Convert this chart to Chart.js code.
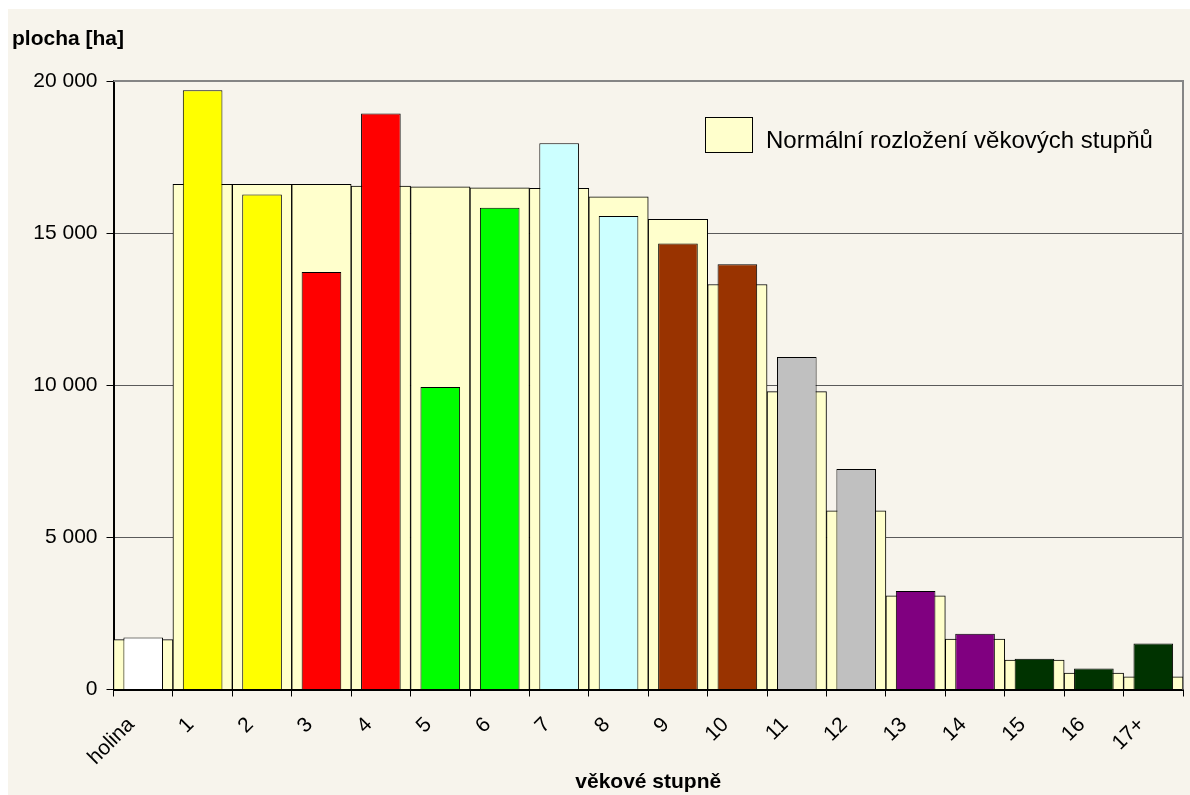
<!DOCTYPE html>
<html lang="cs">
<head>
<meta charset="utf-8">
<title>Plocha podle věkových stupňů</title>
<script src="https://cdn.jsdelivr.net/npm/chart.js@4/dist/chart.umd.min.js"></script>
<style>
  html, body { margin: 0; padding: 0; background: #ffffff; }
  #wrap { width: 1190px; height: 795px; }
  canvas { display: block; }
</style>
</head>
<body>
<div id="wrap"><canvas id="chart" width="1190" height="795"></canvas></div>
<script>
// Age classes (věkové stupně)
const categories = ['holina', '1', '2', '3', '4', '5', '6', '7', '8', '9',
  '10', '11', '12', '13', '14', '15', '16', '17+'];

// Normal age-class distribution, area in ha
const normalArea = [1640, 16600, 16600, 16600, 16550, 16520, 16490, 16470, 16190,
  15450, 13310, 9790, 5870, 3080, 1660, 970, 540, 420];

// Actual area per age class, ha
const actualArea = [1710, 19700, 16270, 13720, 18930, 9940, 15830, 17950, 15560,
  14660, 13980, 10930, 7250, 3240, 1830, 1010, 690, 1510];

// Y axis tick values
const yTickValues = [0, 5000, 10000, 15000, 20000];

const normalLabel = 'Normální rozložení věkových stupňů';
const yTitle = 'plocha [ha]';
const xTitle = 'věkové stupně';

// Fill colour for each age class of the actual bars
const classColors = ['#FFFFFF', '#FFFF00', '#FFFF00', '#FF0000', '#FF0000', '#00FF00',
  '#00FF00', '#CCFFFF', '#CCFFFF', '#993300', '#993300', '#C0C0C0', '#C0C0C0',
  '#800080', '#800080', '#003300', '#003300', '#003300'];

const FONT = "'Liberation Sans', Arial, sans-serif";
const BG = '#F7F4EC';

const fmt = v => String(v).replace(/\B(?=(\d{3})+(?!\d))/g, ' ');

// Page background, plot frame, axis title and in-plot legend
const decor = {
  id: 'decor',
  beforeDraw(chart) {
    const ctx = chart.ctx;
    ctx.save();
    ctx.fillStyle = '#ffffff';
    ctx.fillRect(0, 0, chart.width, chart.height);
    ctx.fillStyle = BG;
    ctx.fillRect(8, 9, chart.width - 8, chart.height - 9);
    ctx.restore();
  },
  beforeDatasetsDraw(chart) {
    const { ctx, chartArea: a } = chart;
    ctx.save();
    ctx.strokeStyle = '#858585';
    ctx.lineWidth = 2;
    ctx.beginPath();
    ctx.moveTo(a.left, a.top);
    ctx.lineTo(a.right, a.top);
    ctx.lineTo(a.right, a.bottom);
    ctx.stroke();
    ctx.restore();
  },
  afterDraw(chart) {
    const ctx = chart.ctx;
    ctx.save();
    ctx.fillStyle = '#000';
    ctx.textBaseline = 'alphabetic';
    ctx.textAlign = 'left';
    ctx.font = 'bold 21px ' + FONT;
    ctx.fillText(yTitle, 12, 45);

    // legend entry for the normal distribution
    const ds = chart.data.datasets[0];
    ctx.fillStyle = ds.backgroundColor;
    ctx.fillRect(705, 117, 48, 36);
    ctx.strokeStyle = '#000';
    ctx.lineWidth = 1;
    ctx.strokeRect(705.5, 117.5, 47, 35);
    ctx.fillStyle = '#000';
    ctx.font = '24px ' + FONT;
    ctx.fillText(ds.label, 766, 148);
    ctx.restore();
  }
};

new Chart(document.getElementById('chart'), {
  type: 'bar',
  data: {
    labels: categories,
    datasets: [
      {
        label: normalLabel,
        data: normalArea,
        backgroundColor: '#FFFFCC',
        borderColor: '#000',
        borderWidth: 1,
        barPercentage: 1,
        categoryPercentage: 1,
        order: 2
      },
      {
        label: 'Skutečnost',
        data: actualArea,
        backgroundColor: classColors,
        borderColor: '#000',
        borderWidth: 1,
        barPercentage: 0.667,
        categoryPercentage: 1,
        order: 1
      }
    ]
  },
  options: {
    responsive: false,
    animation: false,
    devicePixelRatio: 1,
    layout: { padding: { left: 0, top: 81, right: 7, bottom: 0 } },
    plugins: {
      legend: { display: false },
      title: { display: false },
      tooltip: { enabled: false }
    },
    datasets: { bar: { grouped: false } },
    scales: {
      x: {
        type: 'category',
        offset: true,
        grid: {
          offset: true,
          drawOnChartArea: false,
          drawTicks: true,
          tickLength: 7,
          tickColor: '#000',
          tickWidth: 1
        },
        border: { color: '#000', width: 2 },
        ticks: {
          minRotation: 45,
          maxRotation: 45,
          autoSkip: false,
          padding: 16,
          labelOffset: -12,
          color: '#000',
          font: { family: FONT, size: 21 }
        },
        title: {
          display: true,
          text: xTitle,
          color: '#000',
          font: { family: FONT, size: 21, weight: 'bold' },
          padding: { top: 0, bottom: 0 }
        },
        afterFit(scale) { scale.height = 105.5; }
      },
      y: {
        min: 0,
        max: 20000,
        afterBuildTicks(scale) { scale.ticks = yTickValues.map(v => ({ value: v })); },
        grid: {
          color: '#5a5a5a',
          lineWidth: 1,
          drawTicks: true,
          tickLength: 7,
          tickColor: '#000'
        },
        border: { color: '#000', width: 2 },
        ticks: {
          padding: 9,
          color: '#000',
          font: { family: FONT, size: 21 },
          callback: v => fmt(v)
        },
        afterFit(scale) { scale.width = 113.5; }
      }
    }
  },
  plugins: [decor]
});
</script>
</body>
</html>
